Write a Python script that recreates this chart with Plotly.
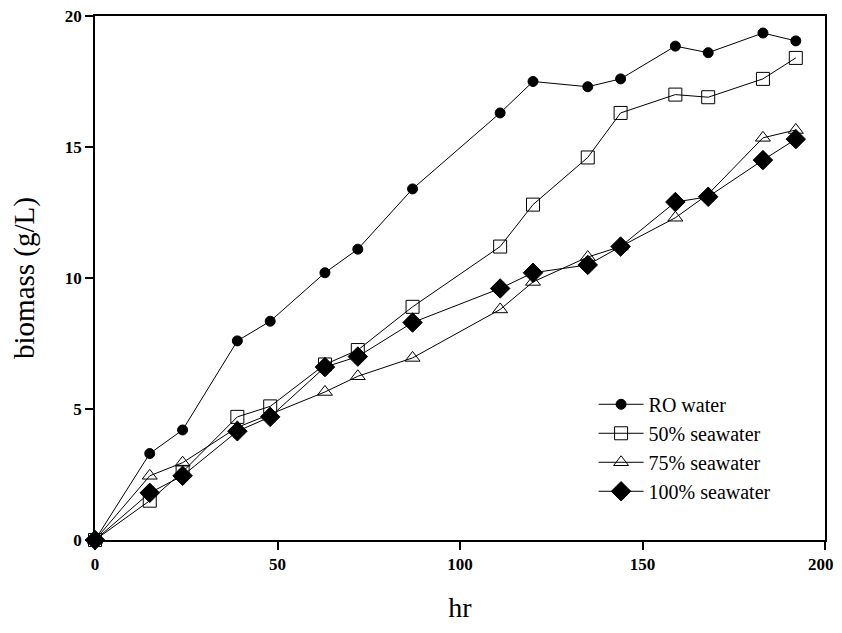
import plotly.graph_objects as go

hours = [0, 15, 24, 39, 48, 63, 72, 87, 111, 120, 135, 144, 159, 168, 183, 192]
ro_water = [0, 3.3, 4.2, 7.6, 8.35, 10.2, 11.1, 13.4, 16.3, 17.5, 17.3, 17.6, 18.85, 18.6, 19.35, 19.05]
sw50 = [0, 1.5, 2.6, 4.7, 5.1, 6.7, 7.25, 8.9, 11.2, 12.8, 14.6, 16.3, 17.0, 16.9, 17.6, 18.4]
sw75 = [0, 2.45, 2.95, 4.3, 4.8, 5.65, 6.25, 6.95, 8.8, 9.85, 10.8, 11.2, 12.3, 13.2, 15.35, 15.65]
sw100 = [0, 1.8, 2.45, 4.15, 4.7, 6.6, 7.0, 8.3, 9.6, 10.2, 10.5, 11.2, 12.9, 13.1, 14.5, 15.3]

x_tickvals = [0, 50, 100, 150, 200]
x_ticktext = ["0", "50", "100", "150", "200\u00a0\u00a0"]
y_tickvals = [0, 5, 10, 15, 20]

series = [
    ("RO water", ro_water, dict(symbol="circle", size=10, color="black", line=dict(color="black", width=1))),
    ("50% seawater", sw50, dict(symbol="square-open", size=13, color="black", line=dict(width=1))),
    ("75% seawater", sw75, dict(symbol="triangle-up-open", size=13, color="black", line=dict(width=1))),
    ("100% seawater", sw100, dict(symbol="diamond", size=15, color="black", line=dict(color="black", width=1))),
]

fig = go.Figure()
for name, vals, mk in series:
    fig.add_trace(go.Scatter(
        x=hours, y=vals, name=name, mode="lines+markers",
        line=dict(color="black", width=1), marker=mk, cliponaxis=False,
    ))

axis_common = dict(
    showgrid=False, zeroline=False, showline=True, linecolor="black", linewidth=1.5,
    mirror=True, ticks="outside", ticklen=8, tickwidth=1.5, tickcolor="black",
    tickfont=dict(family="Liberation Serif", size=17, color="black", weight="bold"),
    ticklabeloverflow="allow",
)

fig.update_layout(
    width=826, height=617,
    margin=dict(l=87, r=9, t=8, b=85, autoexpand=False),
    paper_bgcolor="white", plot_bgcolor="white",
    font=dict(family="Liberation Serif", color="black"),
    xaxis=dict(range=[0, 200], tickvals=x_tickvals, ticktext=x_ticktext,
               title=dict(text="hr", font=dict(family="Liberation Serif", size=28), standoff=24),
               **axis_common),
    yaxis=dict(range=[0, 20], tickvals=y_tickvals,
               title=dict(text="biomass (g/L)", font=dict(family="Liberation Serif", size=29), standoff=22),
               **axis_common),
    legend=dict(x=0.683, y=0.176, xanchor="left", yanchor="middle",
                bgcolor="rgba(0,0,0,0)", borderwidth=0,
                font=dict(family="Liberation Serif", size=20, color="black"),
                tracegroupgap=0, itemwidth=45),
    showlegend=True,
)

fig.write_html("out.html")
